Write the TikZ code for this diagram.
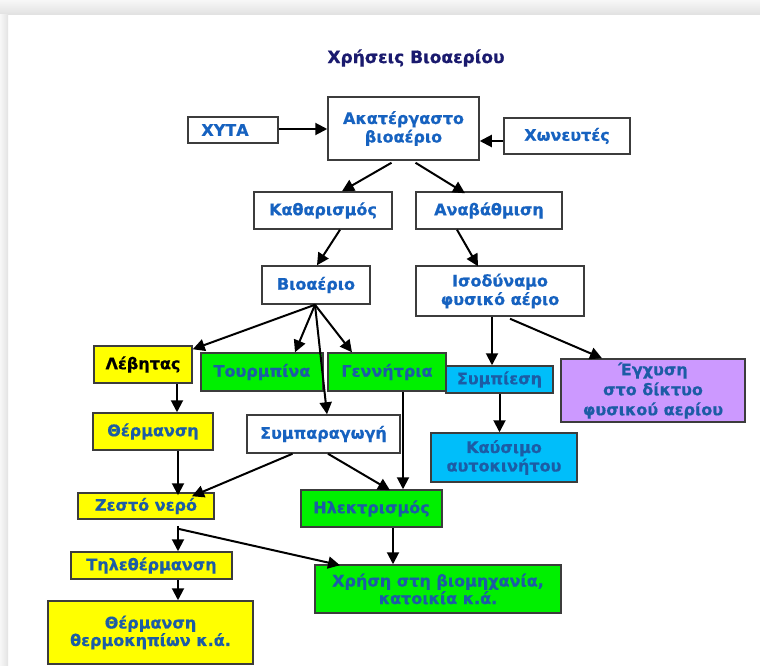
\documentclass[tikz,border=0pt]{standalone}
\usepackage{fontspec}
\setmainfont{DejaVu Sans}[BoldFont={DejaVu Sans Bold}]
\newfontfamily\boxfont{DejaVu Sans Bold}[FakeBold=0.6]
\usetikzlibrary{arrows.meta,calc}
\definecolor{txtblue}{RGB}{22,98,192}
\definecolor{txtdark}{RGB}{28,92,165}
\definecolor{navy}{RGB}{26,26,110}
\definecolor{bordc}{RGB}{60,60,60}
\definecolor{yel}{RGB}{255,255,0}
\definecolor{grn}{RGB}{0,240,0}
\definecolor{cyn}{RGB}{0,190,250}
\definecolor{purp}{RGB}{204,153,255}
\tikzset{
  box/.style={draw=bordc, line width=1.5pt, fill=white, inner sep=0pt, align=center,
    font=\boxfont\fontsize{16}{18.5}\selectfont, text=txtblue},
  ybox/.style={box, fill=yel, text=txtdark},
  gbox/.style={box, fill=grn, text=txtdark},
  cbox/.style={box, fill=cyn, text=txtdark},
  pbox/.style={box, fill=purp, text=txtdark},
  arr/.style={draw=black, line width=2pt, -{Triangle[length=12pt,width=12pt]}},
}
\begin{document}
\begin{tikzpicture}[x=1pt,y=-1pt]
\useasboundingbox (0,0) rectangle (760,666);
% page frame with soft shadow
\fill[white] (0,0) rectangle (760,666);
\shade[top color=gray!6, bottom color=gray!24] (0,0) rectangle (760,15);
\shade[left color=gray!6, right color=gray!22] (0,15) rectangle (8,666);
% title
\node[font=\boxfont\fontsize{17}{20}\selectfont, text=navy] (title) at (416,58) {Χρήσεις Βιοαερίου};
% boxes
\node[box, minimum width=90, minimum height=26] (xyta) at (233,130) {\hspace*{-16pt}ΧΥΤΑ};
\node[box, minimum width=151, minimum height=63] (raw) at (403.5,128.5) {Ακατέργαστο\\βιοαέριο};
\node[box, minimum width=126, minimum height=36] (xon) at (567,136) {Χωνευτές};
\node[box, minimum width=138, minimum height=37] (kath) at (323,210.5) {Καθαρισμός};
\node[box, minimum width=146, minimum height=37] (anav) at (489,210.5) {Αναβάθμιση};
\node[box, minimum width=108, minimum height=38] (bio) at (316,285) {Βιοαέριο};
\node[box, minimum width=168, minimum height=50] (isod) at (500,291) {Ισοδύναμο\\φυσικό αέριο};
\node[ybox, minimum width=98, minimum height=37, text=black] (lev) at (143,364.5) {Λέβητας};
\node[gbox, minimum width=122, minimum height=38] (tour) at (262,372) {Τουρμπίνα};
\node[gbox, minimum width=118, minimum height=38] (genn) at (387,372) {Γεννήτρια};
\node[cbox, minimum width=107, minimum height=27] (symp) at (499.5,379.5) {Συμπίεση};
\node[pbox, minimum width=184, minimum height=63, font=\boxfont\fontsize{16}{20}\selectfont] (eg) at (653,390.5) {Έγχυση\\στο δίκτυο\\φυσικού αερίου};
\node[ybox, minimum width=120, minimum height=37] (therm) at (153,431.5) {Θέρμανση};
\node[box, minimum width=153, minimum height=38] (sympar) at (323.5,434) {Συμπαραγωγή};
\node[cbox, minimum width=146, minimum height=49] (kaus) at (504,457.5) {Καύσιμο\\αυτοκινήτου};
\node[ybox, minimum width=136, minimum height=26] (zesto) at (146,506) {Ζεστό νερό};
\node[gbox, minimum width=141, minimum height=37] (ilek) at (371.5,508.5) {Ηλεκτρισμός};
\node[ybox, minimum width=161, minimum height=27] (tele) at (151.5,565.5) {Τηλεθέρμανση};
\node[gbox, minimum width=246, minimum height=48, font=\boxfont\fontsize{16}{17.5}\selectfont] (xrisi) at (438,589) {Χρήση στη βιομηχανία,\\κατοικία κ.ά.};
\node[ybox, minimum width=205, minimum height=63, font=\boxfont\fontsize{16}{17.5}\selectfont] (thermo) at (150.5,632.5) {Θέρμανση\\θερμοκηπίων κ.ά.};
% connectors
\draw[arr] ([yshift=1]xyta.east) -- ([yshift=1]xyta.east -| raw.west);
\draw[arr] ([yshift=-5]xon.west) -- ([yshift=-5]xon.west -| raw.east);
\draw[arr] ([xshift=-12,yshift=-2]raw.south) -- ([xshift=19]kath.north);
\draw[arr] ([xshift=12,yshift=-2]raw.south) -- ([xshift=-24,yshift=-2]anav.north);
\draw[arr] ([xshift=17]kath.south) -- ([xshift=1]bio.north);
\draw[arr] ([xshift=-32]anav.south) -- ([xshift=-22,yshift=-1]isod.north);
\draw[arr] ([xshift=-1]bio.south) -- ([yshift=-4]lev.north east);
\draw[arr] ([xshift=-1]bio.south) -- ([xshift=33]tour.north);
\draw[arr] ([xshift=-1]bio.south) -- ([xshift=-35]genn.north);
\draw[arr] ([xshift=-8]isod.south) -- ([xshift=-8]isod.south |- symp.north);
\draw[arr] ([xshift=10,yshift=-2]isod.south) -- ([xshift=-51]eg.north);
\draw[arr] (symp.south) -- (symp.south |- kaus.north);
\draw[arr] ([xshift=34]lev.south) -- ([xshift=34]lev.south |- therm.north);
\draw[arr] ([xshift=25]therm.south) -- ([xshift=25,yshift=-3]therm.south |- zesto.north);
\draw[arr] ([xshift=-31]sympar.south) -- ([xshift=46,yshift=-4]zesto.north);
\draw[arr] ([xshift=4.5]sympar.south) -- ([xshift=18.5,yshift=-1]ilek.north);
\draw[arr] ([xshift=16]genn.south) -- ([xshift=16]genn.south |- ilek.north);
\draw[arr] ([xshift=21.5]ilek.south) -- ([xshift=21.5]ilek.south |- xrisi.north);
\draw[arr] ([xshift=32,yshift=-6]zesto.south) -- ([xshift=32]zesto.south |- tele.north);
\draw[arr] ($(zesto.south)+(32,9)$) -- ([xshift=-98,yshift=-1]xrisi.north);
\draw[arr] ([xshift=26.5]tele.south) -- ([xshift=26.5]tele.south |- thermo.north);
\draw[arr] ([xshift=-1]bio.south) -- ([xshift=3.5]sympar.north);
\end{tikzpicture}
\end{document}
